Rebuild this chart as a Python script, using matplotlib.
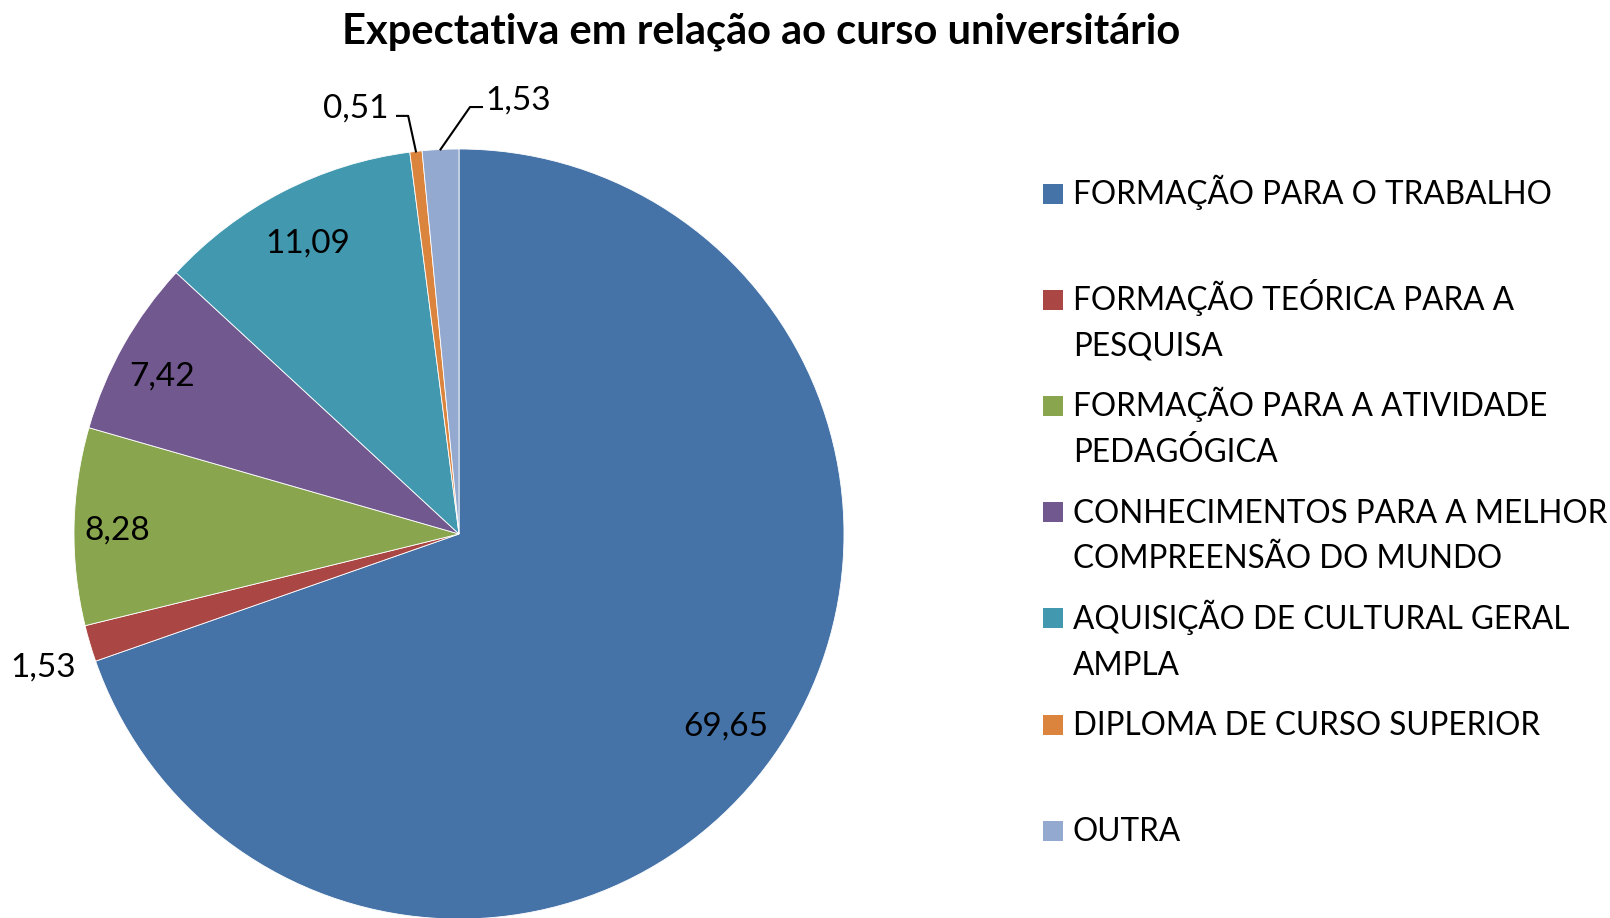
import textwrap
import matplotlib
matplotlib.use("Agg")
import matplotlib.pyplot as plt
import numpy as np

plt.rcParams['font.family'] = ['Lato', 'DejaVu Sans']

categories = [
    "FORMAÇÃO PARA O TRABALHO",
    "FORMAÇÃO TEÓRICA PARA A PESQUISA",
    "FORMAÇÃO PARA A ATIVIDADE PEDAGÓGICA",
    "CONHECIMENTOS PARA A MELHOR COMPREENSÃO DO MUNDO",
    "AQUISIÇÃO DE CULTURAL GERAL AMPLA",
    "DIPLOMA DE CURSO SUPERIOR",
    "OUTRA",
]
values = [69.65, 1.53, 8.28, 7.42, 11.09, 0.51, 1.53]
colors = ["#4572A7", "#AA4643", "#89A54E", "#71588F", "#4198AF", "#DB843D", "#93A9CF"]
title = "Expectativa em relação ao curso universitário"

W, H = 1610, 918
fig = plt.figure(figsize=(W / 100, H / 100), dpi=100)

cx, cy, R = 459, 534, 385
ax = fig.add_axes([(cx - R) / W, (H - cy - R) / H, 2 * R / W, 2 * R / H])
wedges, _ = ax.pie(values, colors=colors, startangle=90, counterclock=False,
                   radius=1.0, wedgeprops=dict(linewidth=0.6, edgecolor="white"))
ax.set_xlim(-1, 1)
ax.set_ylim(-1, 1)
ax.set_aspect("equal")
ax.axis("off")

def fmt(v):
    return f"{v:.2f}".replace(".", ",")

label_fs = 24
half_cap = 12 / R  # baseline offset below the digit centre, in data units
inside_dist = {0: 0.849, 2: 0.888, 3: 0.875, 4: 0.859}
angle_adj = {3: 1.0}
for i, (w, v) in enumerate(zip(wedges, values)):
    mid = np.deg2rad((w.theta1 + w.theta2) / 2 + angle_adj.get(i, 0.0))
    ex, ey = np.cos(mid), np.sin(mid)
    if i in inside_dist:
        d = inside_dist[i]
        ax.text(d * ex, d * ey - half_cap, fmt(v), ha="center", va="baseline",
                fontsize=label_fs, color="black")
    elif i == 1:
        ax.text(-0.995, -0.369, fmt(v), ha="right", va="baseline",
                fontsize=label_fs, color="black", clip_on=False)
    elif i == 5:
        ax.plot([ex, -0.132, -0.161], [ey, 1.086, 1.086], color="black",
                lw=1.5, clip_on=False)
        ax.text(-0.184, 1.083, fmt(v), ha="right", va="baseline",
                fontsize=label_fs, color="black", clip_on=False)
    elif i == 6:
        ax.plot([ex, 0.0286, 0.0597], [ey, 1.109, 1.109], color="black",
                lw=1.5, clip_on=False)
        ax.text(0.0675, 1.1026, fmt(v), ha="left", va="baseline",
                fontsize=label_fs, color="black", clip_on=False)

fig.text(761 / W, 1 - 32 / H, title, ha="center", va="center",
         fontsize=30, fontweight="bold")

# legend (drawn line by line, baseline-aligned)
leg_fs = 22.7
base0, dy, line_gap = 204, 106.2, 45.8
for i, (cat, col) in enumerate(zip(categories, colors)):
    b = base0 + i * dy
    fig.patches.append(plt.Rectangle((1043 / W, 1 - (b - 0.5) / H), 19.5 / W, 20 / H,
                                     transform=fig.transFigure, facecolor=col,
                                     edgecolor="none"))
    for k, line in enumerate(textwrap.wrap(cat, 27)):
        fig.text(1073 / W, 1 - (b + k * line_gap) / H, line, ha="left",
                 va="baseline", fontsize=leg_fs)

fig.savefig("out.png", dpi=100)
